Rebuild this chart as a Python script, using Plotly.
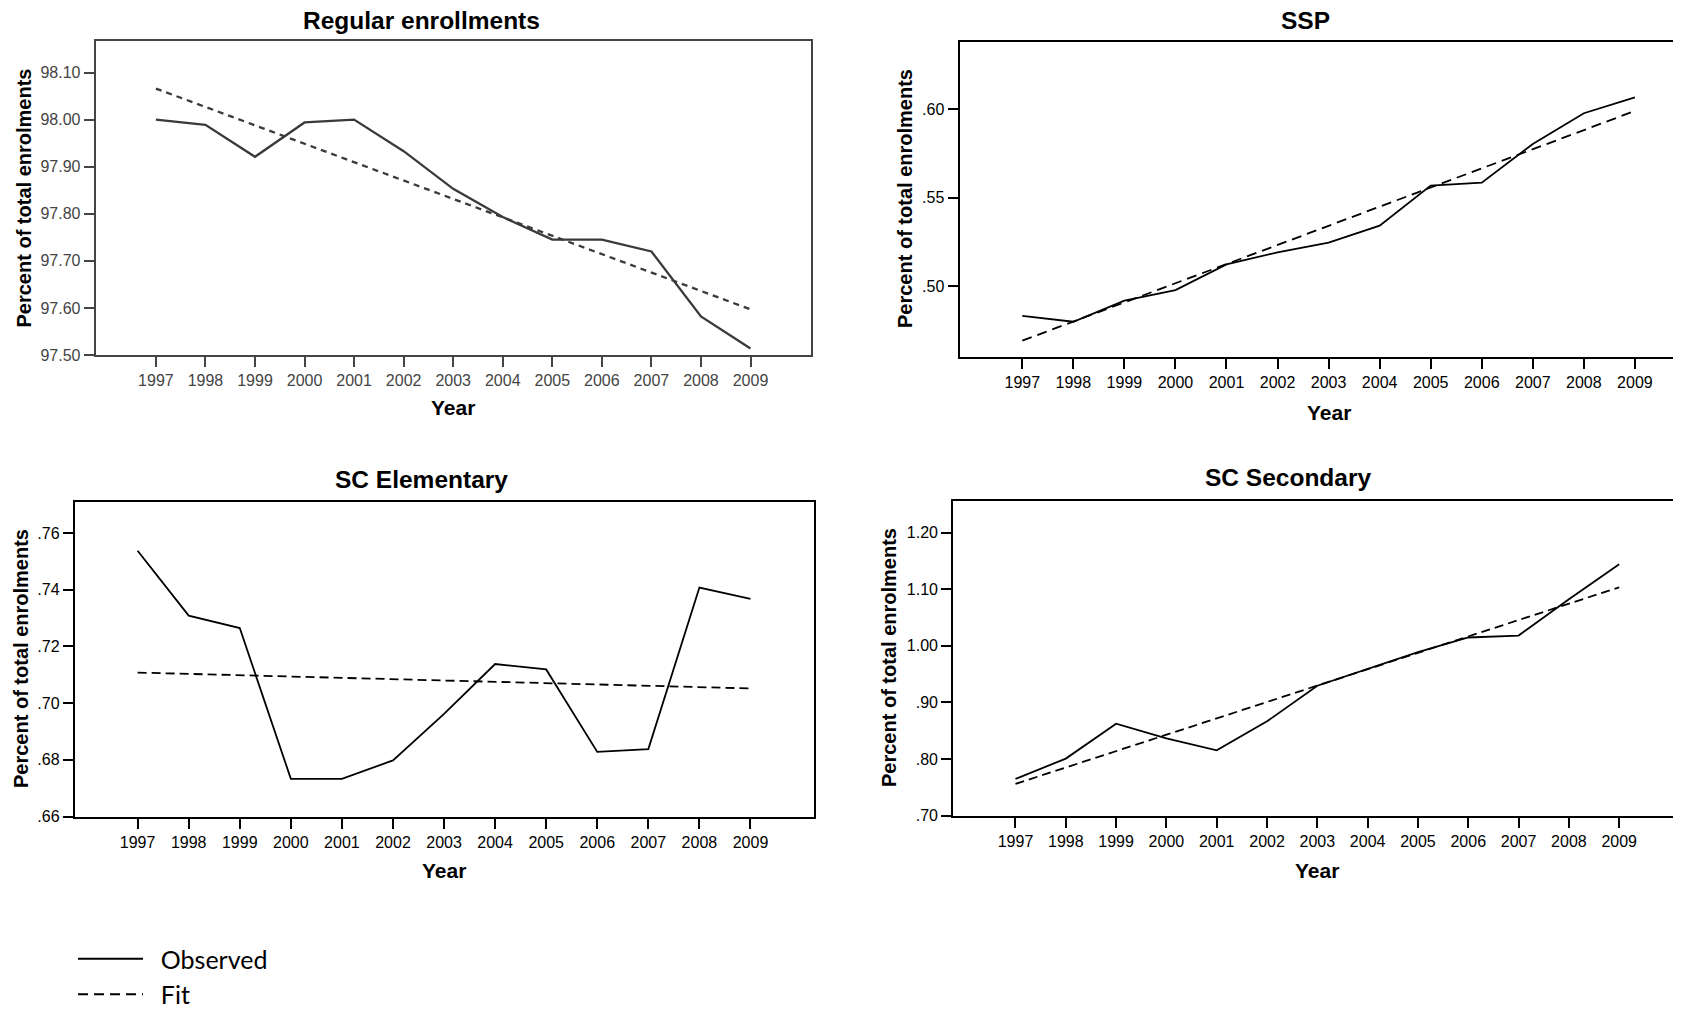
import plotly.graph_objects as go

# ---------------- data ----------------
years = [1997, 1998, 1999, 2000, 2001, 2002, 2003, 2004, 2005, 2006, 2007, 2008, 2009]
year_labels = [str(y) for y in years]
fit_years = [1997, 2009]

regular_obs = [98.000, 97.989, 97.921, 97.994, 98.000, 97.933, 97.853, 97.793,
               97.745, 97.745, 97.720, 97.582, 97.514]
regular_fit = [98.066, 97.597]

ssp_obs = [0.4831, 0.4798, 0.4917, 0.4977, 0.5122, 0.5190, 0.5245, 0.5341,
           0.5567, 0.5584, 0.5802, 0.5976, 0.6066]
ssp_fit = [0.4691, 0.5989]

elem_obs = [0.7538, 0.7309, 0.7265, 0.6733, 0.6733, 0.6798, 0.6962, 0.7138,
            0.7119, 0.6828, 0.6838, 0.7408, 0.7368]
elem_fit = [0.7108, 0.7052]

sec_obs = [0.7647, 0.8006, 0.8624, 0.8365, 0.8153, 0.8665, 0.9294, 0.9594,
           0.9888, 1.0147, 1.0182, 1.0824, 1.1441]
sec_fit = [0.7559, 1.1035]

reg_ticks = [97.50, 97.60, 97.70, 97.80, 97.90, 98.00, 98.10]
reg_ticktext = ["97.50", "97.60", "97.70", "97.80", "97.90", "98.00", "98.10"]
ssp_ticks = [0.50, 0.55, 0.60]
ssp_ticktext = [".50", ".55", ".60"]
elem_ticks = [0.66, 0.68, 0.70, 0.72, 0.74, 0.76]
elem_ticktext = [".66", ".68", ".70", ".72", ".74", ".76"]
sec_ticks = [0.70, 0.80, 0.90, 1.00, 1.10, 1.20]
sec_ticktext = [".70", ".80", ".90", "1.00", "1.10", "1.20"]

titles = ["Regular enrollments", "SSP", "SC Elementary", "SC Secondary"]
y_title = "Percent of total enrolments"
x_title = "Year"
legend_names = ["Observed", "Fit"]

# ---------------- layout geometry (page pixels; the page has an 8px body margin) ----------------
OFF = 8
W, H = 1681 - OFF, 1013 - OFF
XMAX = OFF + W                          # right-most page pixel of the figure


def xd(a, b):
    return [(a - OFF) / W, min((b - OFF) / W, 1.0)]


def yd(top, bottom):
    return [1 - (bottom - OFF) / H, 1 - (top - OFF) / H]


def px(x):
    return (x - OFF) / W


def py(y):
    return 1 - (y - OFF) / H


AX = "Liberation Sans, Arial, sans-serif"

fig = go.Figure()

panels = [
    # obs, fit, xaxis, yaxis, color, width, dash, showlegend
    (regular_obs, regular_fit, "x", "y", "#3a3a3a", 2.3, "6px,5px", False),
    (ssp_obs, ssp_fit, "x2", "y2", "black", 1.8, "10px,6px", True),
    (elem_obs, elem_fit, "x3", "y3", "black", 1.8, "9px,5px", False),
    (sec_obs, sec_fit, "x4", "y4", "black", 1.8, "9px,5px", False),
]

pad = "\u00a0\u00a0"
for obs, fit, xa, ya, col, w, dash, sl in panels:
    fig.add_trace(go.Scatter(x=years, y=obs, mode="lines", xaxis=xa, yaxis=ya,
                             line=dict(color=col, width=w), name=pad + legend_names[0],
                             showlegend=sl, hoverinfo="skip"))
    fig.add_trace(go.Scatter(x=fit_years, y=fit, mode="lines", xaxis=xa, yaxis=ya,
                             line=dict(color=col, width=w, dash=dash), name=pad + legend_names[1],
                             showlegend=sl, hoverinfo="skip"))


def xaxis(domain, rng, anchor, col, lw, mirror=True):
    return dict(domain=domain, range=rng, anchor=anchor, tickmode="array",
                tickvals=years, ticktext=year_labels, showgrid=False, zeroline=False,
                showline=True, linecolor=col, linewidth=lw, mirror=mirror,
                ticks="outside", ticklen=10, tickwidth=1.6, tickcolor=col,
                tickfont=dict(family=AX, size=16, color=col))


def yaxis(domain, rng, anchor, vals, text, col, lw, mirror=True):
    return dict(domain=domain, range=rng, anchor=anchor, tickmode="array",
                tickvals=vals, ticktext=text, showgrid=False, zeroline=False,
                showline=True, linecolor=col, linewidth=lw, mirror=mirror,
                ticks="outside", ticklen=10, tickwidth=1.6, tickcolor=col,
                tickfont=dict(family=AX, size=16, color=col))


# x-range ends for the right-hand panels, which run to the window edge
x2_end = 2009 + (XMAX - 1634.9) / 51.05
x4_right = XMAX - 1
x4_end = 2009 + (x4_right - 1619.2) / 50.31

g1 = "#444444"
fig.update_layout(
    xaxis=xaxis(xd(95.7, 810.7), [1995.785, 2010.215], "y", g1, 2),
    yaxis=yaxis(yd(41, 355), [97.50, 98.167], "x", reg_ticks, reg_ticktext, g1, 2),
    xaxis2=xaxis(xd(959.5, XMAX), [1995.770, x2_end], "y2", "black", 2),
    yaxis2=yaxis(yd(41.7, 356.5), [0.46017, 0.63802], "x2", ssp_ticks, ssp_ticktext,
                 "black", 2, mirror=False),
    xaxis3=xaxis(xd(74.8, 813.5), [1995.770, 2010.234], "y3", "black", 2),
    yaxis3=yaxis(yd(501.7, 816.5), [0.66, 0.7711], "x3", elem_ticks, elem_ticktext, "black", 2),
    xaxis4=xaxis(xd(953.2, x4_right), [1995.762, x4_end], "y4", "black", 2),
    yaxis4=yaxis(yd(500.7, 815.5), [0.70, 1.2566], "x4", sec_ticks, sec_ticktext, "black", 2),
)

ann = []
# panel titles
for txt, cx, cy in zip(titles, [421, 1305, 421, 1288], [21, 21, 479, 477]):
    ann.append(dict(text=f"<b>{txt}</b>", x=px(cx), y=py(cy), xref="paper", yref="paper",
                    xanchor="center", yanchor="middle", showarrow=False,
                    font=dict(family=AX, size=24.5, color="black")))
# y titles
for cx, cy in zip([23.5, 905, 21, 889], [198, 198, 659, 658]):
    ann.append(dict(text=f"<b>{y_title}</b>", x=px(cx), y=py(cy), xref="paper", yref="paper",
                    xanchor="center", yanchor="middle", showarrow=False, textangle=-90,
                    font=dict(family=AX, size=20, color="black")))
# x titles
for cx, cy in zip([453, 1329, 444, 1317], [408, 412, 870, 870]):
    ann.append(dict(text=f"<b>{x_title}</b>", x=px(cx), y=py(cy), xref="paper", yref="paper",
                    xanchor="center", yanchor="middle", showarrow=False,
                    font=dict(family=AX, size=21, color="black")))

fig.update_layout(
    width=W, height=H, margin=dict(l=0, r=0, t=0, b=0, autoexpand=False),
    paper_bgcolor="white", plot_bgcolor="white",
    annotations=ann,
    showlegend=True,
    legend=dict(x=px(73), y=py(936), xanchor="left", yanchor="top",
                font=dict(family="Lato, Carlito, sans-serif", size=25, color="black"),
                itemwidth=65, bgcolor="rgba(0,0,0,0)", borderwidth=0,
                tracegroupgap=0),
)

fig.write_html("out.html")
